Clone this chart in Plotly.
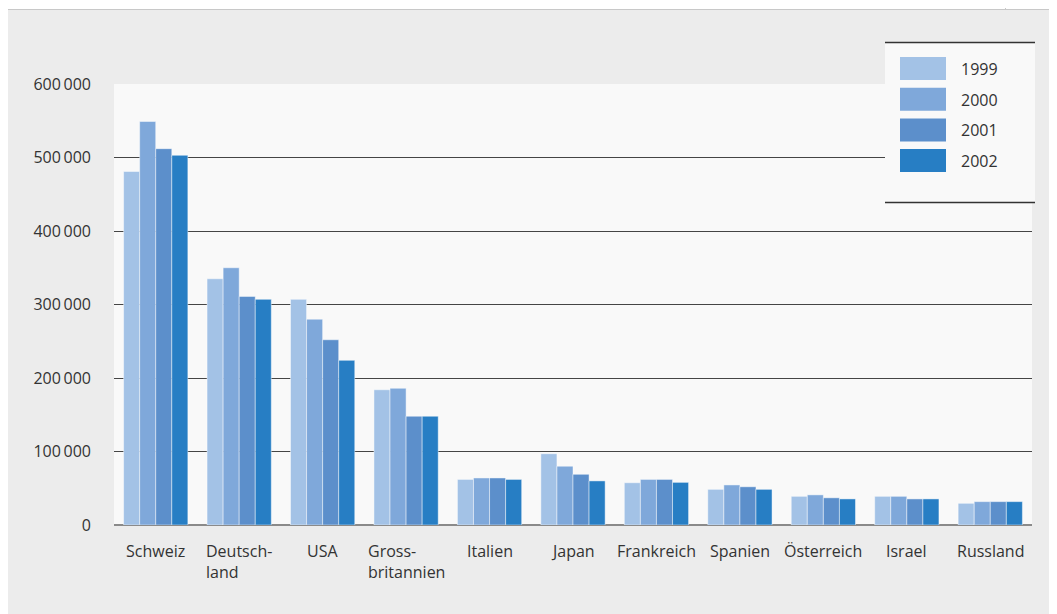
import plotly.graph_objects as go

countries = ["Schweiz", "Deutschland", "USA", "Grossbritannien", "Italien", "Japan",
             "Frankreich", "Spanien", "Österreich", "Israel", "Russland"]
country_labels = ["Schweiz", "Deutsch-<br>land", "USA", "Gross-<br>britannien", "Italien", "Japan",
                  "Frankreich", "Spanien", "Österreich", "Israel", "Russland"]
years = ["1999", "2000", "2001", "2002"]
v1999 = [481000, 335000, 307000, 184000, 62000, 97000, 57500, 48500, 39000, 39000, 29500]
v2000 = [549000, 350000, 280000, 186000, 64000, 80000, 62000, 54500, 41000, 39000, 31800]
v2001 = [512000, 311000, 252000, 148000, 64000, 69000, 62000, 52000, 37000, 35500, 31800]
v2002 = [503000, 307000, 224000, 148000, 62000, 60000, 58000, 48500, 35500, 35500, 31800]
series = [v1999, v2000, v2001, v2002]
colors = ["#a3c2e6", "#7fa8da", "#5c8fcb", "#277ec4"]
tick_vals = [0, 100000, 200000, 300000, 400000, 500000, 600000]
tick_text = ["0", "100\u2009000", "200\u2009000", "300\u2009000", "400\u2009000", "500\u2009000", "600\u2009000"]

OFF = 8  # page offset of the figure in the browser
W, H = 1057 - OFF, 614 - OFF
# plot area in screen pixels: x 114..1032, y 84..525
SX0, SX1, SY0, SY1 = 114, 1032, 84, 525
L, T = SX0 - OFF, SY0 - OFF
R, B = W - (SX1 - OFF), H - (SY1 - OFF)
pw, ph = SX1 - SX0, SY1 - SY0

def px(x):
    return (x - SX0) / pw

def py(y):
    return (SY1 - y) / ph

FONT = "Open Sans, Noto Sans, sans-serif"
FS = 16
fig = go.Figure()
for name, vals, col in zip(years, series, colors):
    fig.add_trace(go.Bar(x=countries, y=vals, name=name, marker_color=col,
                         marker_line=dict(color="rgba(255,255,255,0.45)", width=1),
                         showlegend=False))

shapes = []
# white top strip
shapes.append(dict(type="rect", xref="paper", yref="paper", x0=px(-20), x1=px(1100), y0=py(9.5), y1=py(-20),
                   fillcolor="white", line_width=0, layer="below"))
shapes.append(dict(type="line", xref="paper", yref="paper", x0=px(0), x1=px(1100), y0=py(9.5), y1=py(9.5),
                   line=dict(color="#c8c8c8", width=1), layer="below"))
shapes.append(dict(type="line", xref="paper", yref="paper", x0=px(1005.5), x1=px(1005.5), y0=py(-10), y1=py(9.5),
                   line=dict(color="#c8c8c8", width=1), layer="below"))
# legend box
lx0, lx1, ly0, ly1 = 885, 1035, 42.5, 202.5
shapes.append(dict(type="rect", xref="paper", yref="paper", x0=px(lx0), x1=px(lx1), y0=py(ly1), y1=py(ly0),
                   fillcolor="#f9f9f9", line_width=0, layer="above"))
for yy in (ly0, ly1):
    shapes.append(dict(type="line", xref="paper", yref="paper", x0=px(lx0), x1=px(lx1), y0=py(yy), y1=py(yy),
                       line=dict(color="#333333", width=1.5), layer="above"))
annotations = []
for i, (name, col) in enumerate(zip(years, colors)):
    top = 57 + i * 30.7
    shapes.append(dict(type="rect", xref="paper", yref="paper", x0=px(900), x1=px(946), y0=py(top + 23), y1=py(top),
                       fillcolor=col, line_width=0, layer="above"))
    annotations.append(dict(text=name, xref="paper", yref="paper", x=px(959), y=py(top + 12), xanchor="left",
                            yanchor="middle", showarrow=False, font=dict(size=FS, color="#333333", family=FONT)))
for c, lab in zip(countries, country_labels):
    annotations.append(dict(text=lab, xref="x", yref="paper", x=c, y=py(537.5), xanchor="center", yanchor="top",
                            align="left", showarrow=False, font=dict(size=FS, color="#333333", family=FONT)))

fig.update_layout(
    width=W, height=H,
    margin=dict(l=L, r=R, t=T, b=B, pad=0),
    paper_bgcolor="#ececec", plot_bgcolor="#f9f9f9",
    barmode="group", bargap=0.23, bargroupgap=0,
    font=dict(family=FONT, size=FS, color="#333333"),
    shapes=shapes, annotations=annotations,
    xaxis=dict(showticklabels=False, showgrid=False, ticks="", showline=False, zeroline=False),
    yaxis=dict(range=[0, 600000], tickvals=tick_vals, ticktext=tick_text, showgrid=True,
               gridcolor="#454545", gridwidth=1, zeroline=True, zerolinecolor="#8a8a8a", zerolinewidth=2,
               ticks="", ticklabelstandoff=22, showline=False,
               tickfont=dict(size=FS, color="#333333", family=FONT)),
)
fig.write_html("out.html")
